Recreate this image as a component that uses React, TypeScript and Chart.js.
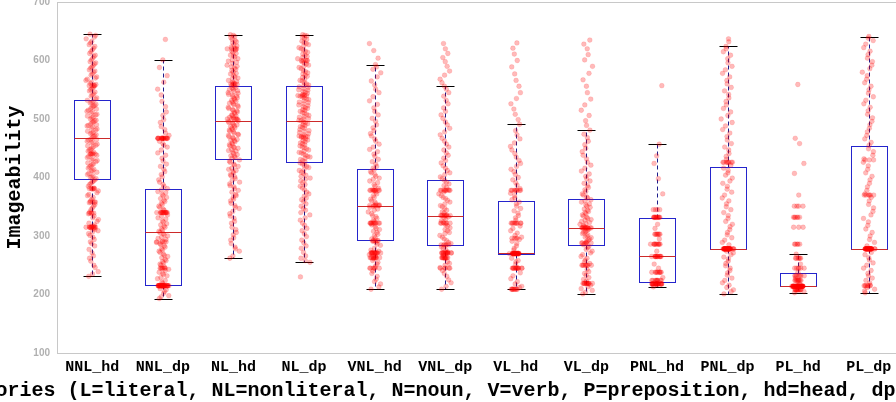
import React, { useEffect, useRef } from 'react';
import { Chart, registerables } from 'chart.js';

Chart.register(...registerables);

// ---------- data ----------
const categories = ['NNL_hd', 'NNL_dp', 'NL_hd', 'NL_dp', 'VNL_hd', 'VNL_dp', 'VL_hd', 'VL_dp', 'PNL_hd', 'PNL_dp', 'PL_hd', 'PL_dp'];
const yTicks = [100, 200, 300, 400, 500, 600, 700];

const whiskerLow = [231, 193, 262, 255, 209, 209, 209, 201, 213, 201, 203, 203];
const quartile1 = [397, 216, 431, 427, 293, 285, 269, 284, 222, 278, 214, 278];
const medians = [467, 307, 497, 497, 352, 335, 271, 314, 265, 278, 214, 278];
const quartile3 = [532, 380, 557, 557, 415, 396, 359, 364, 331, 418, 236, 454];
const whiskerHigh = [645, 601, 644, 644, 593, 556, 491, 481, 457, 624, 269, 641];

const nnlHdPts = [231, 239, 250, 262, 271, 283, 290, 298, 304, 309, 313, 315, 316, 319, 325, 331, 338, 345, 351, 357, 363, 369, 374, 380, 385, 390, 394,
  398, 401, 405, 409, 412, 416, 420, 423, 427, 430, 434, 438, 441, 445, 448, 452, 455, 459, 462, 465,
  468, 471, 475, 477, 481, 484, 488, 490, 494, 497, 500, 503, 507, 510, 513, 517, 520, 523, 527, 530,
  534, 539, 543, 548, 552, 557, 561, 566, 570, 575, 580, 584, 589, 594, 598, 604, 609, 615, 621, 627, 633, 640, 645,
  235, 246, 257, 266, 277, 287, 294, 301, 307, 311, 314, 317, 322, 328, 334, 341, 348, 354, 360, 366, 371, 377, 382, 388, 392, 396,
  400, 403, 407, 411, 414, 418, 422, 425, 429, 432, 436, 440, 443, 447, 450, 454, 457, 460, 464, 466, 470, 473, 476, 479, 483, 486,
  489, 492, 495, 498, 502, 505, 508, 512, 515, 518, 522, 525, 528, 532, 536, 541, 546, 550, 554, 559, 563, 568, 572, 577, 582, 587,
  591, 596, 601, 607, 612, 618, 624, 630, 637, 643];
const nnlHdClusters = [[315, 8], [339, 4], [358, 4], [381, 5], [440, 4], [557, 4]];

const nnlDpPts = [193, 198, 205, 210, 219, 224, 229, 234, 238, 243, 247, 252, 256, 260, 265, 269, 274, 278, 283, 287, 291, 296, 300, 304,
  308, 312, 317, 321, 326, 331, 336, 346, 351, 356, 361, 366, 371, 376, 381, 388, 396, 405, 414, 423, 433, 442, 452, 458, 476, 487, 499, 512, 530, 551, 574, 601, 636,
  196, 202, 208, 221, 227, 232, 236, 241, 250, 254, 258, 263, 267, 272, 276, 281, 285, 289, 294, 298, 302, 306, 310, 315, 319, 324,
  329, 334, 344, 349, 354, 359, 364, 369, 374, 379, 385, 392, 401, 410, 419, 428, 438, 447, 455, 462, 472, 482, 494, 506, 521, 541, 563, 588];
const nnlDpClusters = [[215, 35], [467, 18], [340, 14], [245, 6], [290, 4]];

const nlHdPts = [262, 274, 281, 293, 302, 311, 322, 330, 338, 347, 352, 360, 366, 371, 378, 384, 389, 395, 401, 405, 410, 414, 419, 423, 428,
  433, 436, 439, 443, 446, 450, 452, 456, 459, 463, 465, 468, 472, 474, 478, 481, 484, 488, 490, 493, 496,
  499, 502, 505, 507, 511, 514, 516, 520, 523, 526, 530, 532, 535, 539, 541, 545, 548, 551, 554, 557,
  561, 564, 569, 572, 577, 580, 585, 589, 592, 597, 601, 606, 609, 614, 618, 623, 627, 632, 636, 641, 644,
  266, 278, 287, 297, 306, 315, 325, 334, 342, 349, 356, 363, 369, 375, 381, 386, 392, 398, 403, 408, 412, 416, 421, 426, 430, 434,
  437, 441, 445, 448, 451, 454, 457, 461, 464, 467, 470, 473, 476, 479, 482, 485, 487, 491, 494, 497, 500, 503, 506, 509, 512, 515,
  518, 521, 524, 527, 529, 533, 536, 538, 542, 544, 547, 550, 553, 556, 559, 563, 566, 570, 574, 578, 583, 587, 590, 595, 599, 603,
  608, 612, 616, 621, 625, 630, 634, 639, 643];
const nlHdClusters = [[500, 4], [560, 4], [620, 4]];

const nlDpPts = [230, 255, 266, 279, 288, 299, 309, 318, 327, 336, 344, 351, 359, 365, 372, 379, 385, 391, 397, 402, 407, 412, 417, 421, 425,
  429, 433, 436, 440, 443, 447, 451, 454, 458, 461, 464, 468, 471, 475, 479, 482, 486, 489, 492, 495,
  498, 501, 504, 508, 511, 515, 518, 521, 524, 528, 531, 534, 538, 541, 544, 547, 550, 554, 557,
  560, 565, 568, 573, 577, 581, 586, 590, 594, 598, 603, 607, 611, 616, 620, 625, 629, 633, 638, 642, 644,
  258, 262, 272, 283, 293, 304, 313, 322, 331, 340, 347, 355, 362, 368, 375, 382, 388, 394, 399, 404, 409, 414, 419, 423, 427, 431,
  435, 438, 442, 445, 449, 452, 456, 459, 463, 466, 469, 473, 477, 480, 484, 487, 490, 494, 497, 500, 503, 506, 510, 513, 516, 519,
  523, 526, 529, 533, 536, 539, 542, 546, 549, 552, 555, 558, 562, 566, 571, 575, 579, 583, 588, 592, 596, 600, 605, 609, 614, 618,
  622, 627, 631, 636, 640, 643];
const nlDpClusters = [[470, 4], [540, 4], [600, 4]];

const vnlHdPts = [209, 218, 226, 236, 245, 252, 258, 266, 276, 284, 289, 295, 300, 306, 311, 316, 322, 327, 333, 338, 344, 349, 353, 358, 363,
  369, 375, 382, 388, 394, 399, 405, 410, 416, 423, 431, 440, 448, 457, 466, 475, 485, 496, 507, 519, 531, 545, 558, 572, 585, 593, 604, 617, 629,
  213, 222, 231, 240, 248, 255, 261, 268, 274, 279, 286, 291, 297, 303, 308, 313, 319, 325, 330, 335, 341, 346, 351, 355, 360, 366,
  372, 379, 385, 391, 397, 402, 408, 413, 419, 427, 436, 444, 452, 462, 471, 480, 490, 501, 513, 525, 538, 551, 565, 579, 589];
const vnlHdClusters = [[271, 14], [263, 10], [322, 9], [378, 9], [245, 5], [352, 6], [292, 5]];

const vnlDpPts = [209, 220, 231, 241, 250, 256, 267, 276, 281, 287, 292, 298, 304, 309, 314, 319, 326, 331, 336, 341, 347, 352, 358, 364, 369,
  375, 383, 389, 395, 401, 408, 416, 425, 433, 442, 452, 462, 473, 484, 495, 507, 519, 532, 545, 556, 568, 582, 598, 612, 629,
  214, 225, 236, 246, 253, 261, 273, 279, 284, 289, 295, 301, 306, 311, 317, 323, 328, 333, 339, 344, 350, 355, 361, 366, 372,
  379, 386, 392, 398, 405, 412, 420, 429, 438, 447, 457, 467, 478, 490, 501, 513, 526, 539, 551, 562, 575, 590, 605, 620];
const vnlDpClusters = [[271, 14], [263, 10], [335, 8], [322, 6], [378, 8], [245, 5], [285, 5]];

const vlHdPts = [209, 214, 222, 232, 252, 258, 276, 283, 291, 298, 305, 313, 331, 339, 347, 355, 362, 369, 387, 396, 405, 414, 424, 435, 447,
  459, 473, 491, 508, 526, 545, 566, 589, 611, 630,
  212, 218, 227, 237, 256, 262, 279, 287, 294, 301, 309, 317, 327, 335, 343, 351, 358, 365, 373, 381, 391, 400, 410, 419, 429,
  441, 453, 466, 480, 499, 517, 535, 556, 577, 600, 621];
const vlHdClusters = [[270, 32], [245, 13], [209, 8], [322, 9], [378, 8], [296, 4]];

const vlDpPts = [201, 207, 213, 226, 233, 239, 256, 262, 268, 274, 280, 285, 289, 293, 297, 300, 304, 307, 310, 318, 321, 325, 328, 332, 336,
  340, 344, 349, 353, 358, 362, 367, 372, 379, 386, 394, 402, 411, 421, 432, 444, 456, 468, 481, 497, 515, 534, 556, 578, 601, 620, 635,
  204, 210, 216, 223, 229, 236, 243, 253, 259, 265, 271, 277, 282, 287, 291, 295, 298, 302, 306, 309, 312, 316, 320, 323, 327,
  330, 334, 338, 342, 346, 351, 355, 360, 365, 370, 376, 383, 390, 398, 406, 416, 426, 438, 450, 462, 474, 489, 506, 524, 545, 567, 590, 610, 628];
const vlDpClusters = [[219, 12], [250, 8], [314, 12], [288, 5]];

const pnlHdPts = [213, 229, 245, 252, 274, 295, 313, 320, 345, 372, 398, 424, 437, 457, 557];
const pnlHdClusters = [[218, 24], [224, 9], [238, 9], [265, 12], [286, 10], [303, 7], [332, 12], [345, 3]];

const pnlDpPts = [201, 208, 216, 224, 233, 241, 249, 257, 264, 271, 285, 293, 302, 311, 320, 330, 340, 350, 360, 370, 380, 390, 399, 408, 416,
  436, 447, 458, 470, 482, 494, 506, 518, 530, 542, 554, 566, 578, 590, 603, 615, 624, 637,
  205, 212, 220, 228, 237, 245, 253, 261, 268, 274, 289, 297, 306, 316, 325, 335, 345, 355, 365, 375, 385, 394, 404, 412, 421,
  431, 441, 452, 464, 476, 488, 500, 512, 524, 536, 548, 560, 572, 584, 596, 609, 620, 632];
const pnlDpClusters = [[278, 45], [426, 8]];

const plHdPts = [203, 205, 218, 228, 238, 252, 269, 370, 407, 424, 458, 467, 559];
const plHdClusters = [[214, 65], [208, 12], [224, 9], [232, 7], [245, 6], [262, 6], [286, 5], [315, 3], [332, 6], [351, 4]];

const plDpPts = [203, 209, 216, 224, 232, 241, 250, 259, 268, 289, 300, 312, 324, 336, 348, 360, 372, 384, 396, 408, 420, 432, 444, 455, 466,
  478, 490, 502, 514, 526, 538, 550, 562, 574, 586, 598, 610, 622, 634, 641,
  206, 212, 220, 228, 236, 245, 254, 263, 272, 283, 294, 306, 318, 330, 342, 354, 366, 378, 390, 402, 414, 426, 438, 449, 460,
  472, 484, 496, 508, 520, 532, 544, 556, 568, 580, 592, 604, 616, 628, 638];
const plDpClusters = [[278, 40], [370, 6], [215, 6], [430, 3]];

const pointLists = [nnlHdPts, nnlDpPts, nlHdPts, nlDpPts, vnlHdPts, vnlDpPts, vlHdPts, vlDpPts, pnlHdPts, pnlDpPts, plHdPts, plDpPts];
const clusterLists = [nnlHdClusters, nnlDpClusters, nlHdClusters, nlDpClusters, vnlHdClusters, vnlDpClusters, vlHdClusters, vlDpClusters, pnlHdClusters, pnlDpClusters, plHdClusters, plDpClusters];

const yTitle = 'Imageability';
const xTitle = 'Categories (L=literal, NL=nonliteral, N=noun, V=verb, P=preposition, hd=head, dp=dependent)';

// ---------- chart ----------
const MONO = '"Liberation Mono", "Courier New", monospace';
const BOX_HALF = 0.255;
const CAP_HALF = 0.127;
const JITTER = 0.085;

function buildPoints() {
  const pts: { x: number; y: number }[] = [];
  categories.forEach((_, i) => {
    const vals: number[] = [...pointLists[i]];
    (clusterLists[i] as number[][]).forEach(([v, n]) => {
      for (let k = 0; k < n; k++) vals.push(v);
    });
    vals.forEach((v, k) => {
      const u = ((k * 0.618034 + 0.31) % 1);
      const w = ((k * 0.754878 + 0.17) % 1);
      pts.push({ x: i + 1 + (u + w - 1) * JITTER * 1.15, y: v });
    });
  });
  return pts;
}

const boxPlugin = {
  id: 'boxes',
  beforeDatasetsDraw(chart: any) {
    const { ctx, chartArea, scales } = chart;
    const xs = scales.x;
    const ys = scales.y;
    ctx.save();
    ctx.strokeStyle = '#c8c8c8';
    ctx.lineWidth = 1;
    ctx.strokeRect(Math.round(chartArea.left) + 0.5, Math.round(chartArea.top) + 0.5,
      Math.round(chartArea.right - chartArea.left), Math.round(chartArea.bottom - chartArea.top));
    categories.forEach((_, i) => {
      const cx = Math.round(xs.getPixelForValue(i + 1)) + 0.5;
      const bl = Math.round(xs.getPixelForValue(i + 1 - BOX_HALF)) + 0.5;
      const br = Math.round(xs.getPixelForValue(i + 1 + BOX_HALF)) + 0.5;
      const cl = Math.round(xs.getPixelForValue(i + 1 - CAP_HALF)) + 0.5;
      const cr = Math.round(xs.getPixelForValue(i + 1 + CAP_HALF)) + 0.5;
      const yLo = Math.round(ys.getPixelForValue(whiskerLow[i])) + 0.5;
      const yQ1 = Math.round(ys.getPixelForValue(quartile1[i])) + 0.5;
      const yMed = Math.round(ys.getPixelForValue(medians[i])) + 0.5;
      const yQ3 = Math.round(ys.getPixelForValue(quartile3[i])) + 0.5;
      const yHi = Math.round(ys.getPixelForValue(whiskerHigh[i])) + 0.5;
      ctx.strokeStyle = '#1c1c8c';
      ctx.lineWidth = 1;
      ctx.setLineDash([4, 3]);
      ctx.beginPath();
      ctx.moveTo(cx, yQ3); ctx.lineTo(cx, yHi);
      ctx.moveTo(cx, yQ1); ctx.lineTo(cx, yLo);
      ctx.stroke();
      ctx.setLineDash([]);
      ctx.strokeStyle = '#000000';
      ctx.beginPath();
      ctx.moveTo(cl, yHi); ctx.lineTo(cr, yHi);
      ctx.moveTo(cl, yLo); ctx.lineTo(cr, yLo);
      ctx.stroke();
      ctx.strokeStyle = '#2424cc';
      ctx.strokeRect(bl, yQ3, br - bl, yQ1 - yQ3);
      ctx.strokeStyle = '#cc2a2a';
      ctx.beginPath();
      ctx.moveTo(bl, yMed); ctx.lineTo(br, yMed);
      ctx.stroke();
    });
    ctx.restore();
  },
  afterDraw(chart: any) {
    const { ctx, chartArea } = chart;
    ctx.save();
    ctx.font = `bold 20px ${MONO}`;
    ctx.fillStyle = '#000000';
    ctx.textAlign = 'center';
    ctx.textBaseline = 'middle';
    ctx.fillText(xTitle, (chartArea.left + chartArea.right) / 2 + 1, chartArea.bottom + 38);
    ctx.restore();
  },
};

export default function App() {
  const ref = useRef<HTMLCanvasElement | null>(null);

  useEffect(() => {
    if (!ref.current) return;
    const chart = new Chart(ref.current, {
      type: 'scatter',
      data: {
        datasets: [{
          data: buildPoints(),
          pointRadius: 2.4,
          pointBackgroundColor: 'rgba(255,0,0,0.27)',
          pointBorderColor: 'rgba(255,0,0,0.12)',
          pointBorderWidth: 1,
        }],
      },
      options: {
        animation: false,
        responsive: false,
        maintainAspectRatio: false,
        devicePixelRatio: 1,
        layout: { padding: { left: 100, right: 96, top: 22, bottom: 0 } },
        plugins: { legend: { display: false }, tooltip: { enabled: false } },
        scales: {
          x: {
            type: 'linear',
            min: 0.5,
            max: 12.5,
            grid: { display: false, drawTicks: false },
            border: { display: false },
            afterBuildTicks: (s: any) => { s.ticks = categories.map((_, i) => ({ value: i + 1 })); },
            afterFit: (s: any) => { s.height = 67; },
            ticks: {
              autoSkip: false,
              maxRotation: 0,
              padding: 5,
              color: '#000000',
              font: { family: MONO, size: 15, weight: 'bold' },
              callback: (v: any) => categories[Math.round(Number(v)) - 1] ?? '',
            },
            title: { display: false },
          },
          y: {
            min: 100,
            max: 700,
            grid: { display: false, drawTicks: false },
            border: { display: false },
            afterBuildTicks: (s: any) => { s.ticks = yTicks.map((v) => ({ value: v })); },
            afterFit: (s: any) => { s.width = 57; },
            ticks: {
              padding: 7,
              color: '#b0b0b0',
              font: { family: '"Liberation Sans", Arial, sans-serif', size: 10, weight: 'bold' },
            },
            title: {
              display: true,
              text: yTitle,
              color: '#000000',
              font: { family: MONO, size: 20, weight: 'bold' },
              padding: { top: 3, bottom: 0 },
            },
          },
        },
      } as any,
      plugins: [boxPlugin],
    });
    return () => chart.destroy();
  }, []);

  return (
    <div style={{ position: 'fixed', left: 0, top: 0, width: 896, height: 402, overflow: 'hidden', background: '#ffffff' }}>
      <canvas
        ref={ref}
        width={1100}
        height={440}
        style={{ position: 'absolute', left: -100, top: -20, width: 1100, height: 440 }}
      />
    </div>
  );
}
